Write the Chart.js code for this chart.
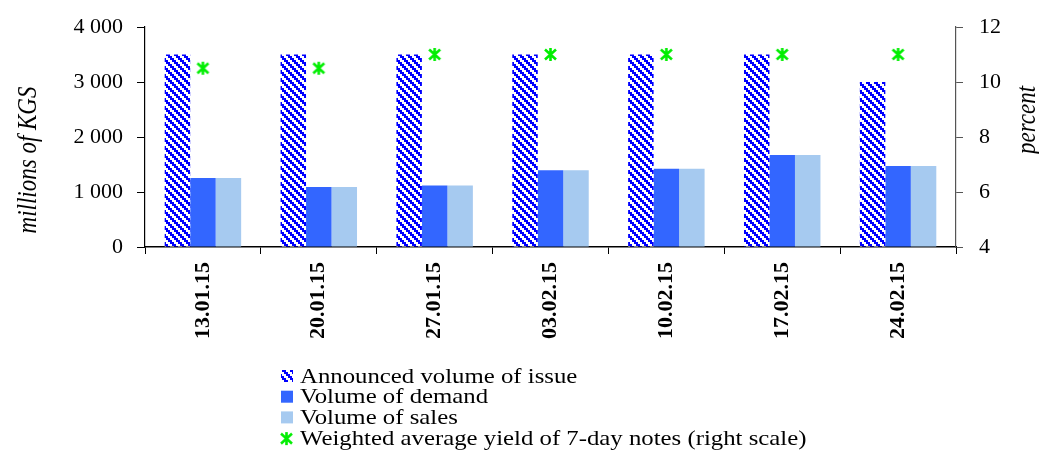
<!DOCTYPE html>
<html>
<head>
<meta charset="utf-8">
<script src="https://cdn.jsdelivr.net/npm/chart.js@4"></script>
<style>
html,body{margin:0;padding:0;background:#fff;}
#wrap{width:1039px;height:450px;position:relative;}
</style>
</head>
<body>
<div id="wrap"><canvas id="c"></canvas></div>
<script>
const categories = ['13.01.15','20.01.15','27.01.15','03.02.15','10.02.15','17.02.15','24.02.15'];
const announced = [3500, 3500, 3500, 3500, 3500, 3500, 3000];
const demand = [1255, 1090, 1120, 1395, 1425, 1675, 1475];
const sales = [1255, 1090, 1120, 1395, 1425, 1675, 1475];
const yieldPct = [10.5, 10.5, 11, 11, 11, 11, 11];
const leftTicks = [0, 1000, 2000, 3000, 4000];
const rightTicks = [4, 6, 8, 10, 12];
const seriesNames = ['Announced volume of issue','Volume of demand','Volume of sales','Weighted average yield of 7-day notes (right scale)'];
const leftTitle = 'millions of KGS';
const rightTitle = 'percent';

const FONT = '"Liberation Serif", "Times New Roman", serif';

function makePattern(){
  const t = document.createElement('canvas');
  t.width = 8; t.height = 8;
  const g = t.getContext('2d');
  g.fillStyle = '#fff'; g.fillRect(0,0,8,8);
  g.fillStyle = '#0000ff';
  for (let by=0; by<4; by++) for (let bx=0; bx<4; bx++){
    const d = ((bx - by) % 4 + 4) % 4;
    if (d === 0 || d === 1) g.fillRect(bx*2, by*2, 2, 2);
  }
  return document.getElementById('c').getContext('2d').createPattern(t, 'repeat');
}
function makeStar(){
  const s = document.createElement('canvas');
  s.width = 15; s.height = 15;
  const g = s.getContext('2d');
  g.strokeStyle = '#00ee00'; g.lineWidth = 2.6;
  g.beginPath();
  g.moveTo(2,2.5); g.lineTo(13,12.5);
  g.moveTo(13,2.5); g.lineTo(2,12.5);
  g.moveTo(7.5,1); g.lineTo(7.5,14);
  g.stroke();
  return s;
}
const pattern = makePattern();
const star = makeStar();

const extras = {
  id: 'extras',
  afterDraw(chart){
    const ctx = chart.ctx;
    ctx.save();
    ctx.fillStyle = '#000';
    ctx.font = 'italic 23px ' + FONT;
    ctx.textAlign = 'center'; ctx.textBaseline = 'middle';
    ctx.save(); ctx.translate(29, 160); ctx.rotate(-Math.PI/2); ctx.scale(1, 1.15); ctx.fillText(leftTitle, 0, 0); ctx.restore();
    ctx.save(); ctx.translate(1028, 120); ctx.rotate(-Math.PI/2); ctx.scale(1, 1.15); ctx.fillText(rightTitle, 0, 0); ctx.restore();
    // legend
    const x0 = 281, y0 = 376, dy = 20.7;
    ctx.textAlign = 'left';
    const fills = [pattern, '#3366ff', '#a6caf0'];
    seriesNames.forEach((name, i) => {
      const y = y0 + i*dy;
      if (i < 3){
        ctx.fillStyle = fills[i];
        ctx.fillRect(x0, y-6, 12, 12);
      } else {
        ctx.drawImage(star, x0-2, y-7);
      }
      ctx.fillStyle = '#000';
      ctx.save();
      ctx.translate(x0 + 19, y + 1);
      ctx.scale(1.18, 1);
      ctx.font = '21px ' + FONT;
      ctx.fillText(name, 0, 0);
      ctx.restore();
    });
    ctx.restore();
  }
};

new Chart(document.getElementById('c'), {
  type: 'bar',
  data: {
    labels: categories,
    datasets: [
      { label: seriesNames[0], data: announced, backgroundColor: pattern, yAxisID: 'y', order: 2 },
      { label: seriesNames[1], data: demand, backgroundColor: '#3366ff', yAxisID: 'y', order: 2 },
      { label: seriesNames[2], data: sales, backgroundColor: '#a6caf0', yAxisID: 'y', order: 2 },
      { label: seriesNames[3], type: 'line', data: yieldPct, yAxisID: 'y1', showLine: false,
        pointStyle: star, pointRadius: 7, order: 1 }
    ]
  },
  options: {
    responsive: true,
    maintainAspectRatio: false,
    animation: false,
    datasets: { bar: { categoryPercentage: 0.66, barPercentage: 1.0 } },
    layout: { padding: { top: 27, left: 0, right: 0, bottom: 0 } },
    plugins: { legend: { display: false }, tooltip: { enabled: false } },
    scales: {
      x: {
        grid: { drawOnChartArea: false, tickLength: 7, color: '#000', offset: true },
        border: { color: '#000', width: 1.5 },
        ticks: { color: '#000', font: { family: FONT, size: 22, weight: 'bold' }, minRotation: 90, maxRotation: 90, padding: 8, autoSkip: false },
        afterFit: s => { s.height = 203; }
      },
      y: {
        position: 'left', min: 0, max: 4000,
        afterBuildTicks: s => { s.ticks = leftTicks.map(v => ({ value: v })); },
        grid: { drawOnChartArea: false, tickLength: 8, color: '#000' },
        border: { color: '#000', width: 1.2 },
        ticks: { color: '#000', font: { family: FONT, size: 22 }, padding: 14,
          callback: v => String(v).replace(/\B(?=(\d{3})+(?!\d))/g, ' ') },
        afterFit: s => { s.width = 145; s.paddingTop = 10; s.paddingBottom = 10; }
      },
      y1: {
        position: 'right', min: 4, max: 12,
        afterBuildTicks: s => { s.ticks = rightTicks.map(v => ({ value: v })); },
        grid: { drawOnChartArea: false, tickLength: 7, color: '#555' },
        border: { color: '#555', width: 1.2 },
        ticks: { color: '#000', font: { family: FONT, size: 22 }, padding: 16 },
        afterFit: s => { s.width = 83; s.paddingTop = 10; s.paddingBottom = 10; }
      }
    }
  },
  plugins: [extras]
});
</script>
</body>
</html>
